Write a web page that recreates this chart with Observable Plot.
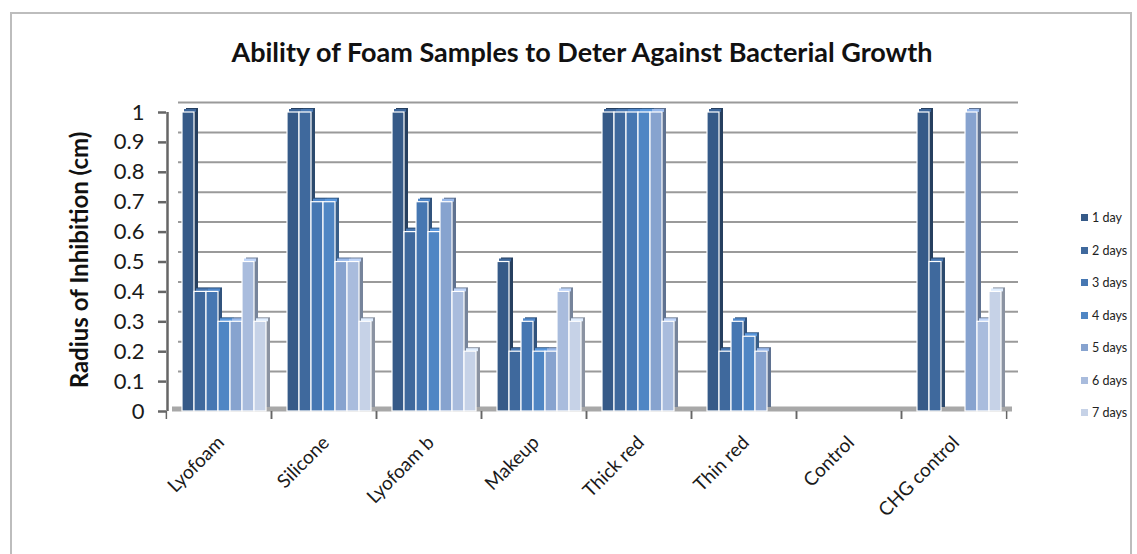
<!DOCTYPE html>
<html>
<head>
<meta charset="utf-8">
<script src="https://cdn.jsdelivr.net/npm/d3@7"></script>
<script src="https://cdn.jsdelivr.net/npm/@observablehq/plot@0.6"></script>
<style>
  body { margin: 0; background: #fff; font-family: Lato, "Open Sans", sans-serif; }
  #wrap { position: relative; width: 1137px; height: 554px; overflow: hidden; }
  #chart { position: absolute; left: 0; top: 0; }
  #border { position: absolute; left: 10px; top: 12px; width: 1118px; height: 600px; border: 2px solid #bdbdbd; pointer-events: none; }
  #title { position: absolute; left: 582px; top: 36px; transform: translateX(-50%); white-space: nowrap; font-weight: bold; font-size: 27px; line-height: 32px; color: #111; }
  #ylabel { position: absolute; left: 78px; top: 260px; transform: translate(-50%, -50%) rotate(-90deg); white-space: nowrap; font-weight: bold; font-size: 24px; color: #111; }
  #legend { position: absolute; left: 1081px; top: 203px; font-size: 12.5px; color: #222; }
  #legend .item { height: 32.5px; line-height: 30px; white-space: nowrap; }
  #legend .sw { display: inline-block; width: 7px; height: 7px; margin-right: 4px; vertical-align: 1px; }
</style>
</head>
<body>
<div id="wrap">
  <div id="chart"></div>
  <div id="border"></div>
  <div id="title"></div>
  <div id="ylabel"></div>
  <div id="legend"></div>
</div>
<script>
const titleText = "Ability of Foam Samples to Deter Against Bacterial Growth";
const yLabel = "Radius of Inhibition (cm)";
const categories = ["Lyofoam", "Silicone", "Lyofoam b", "Makeup", "Thick red", "Thin red", "Control", "CHG control"];
const days = ["1 day", "2 days", "3 days", "4 days", "5 days", "6 days", "7 days"];
const day1 = [1, 1, 1, 0.5, 1, 1, 0, 1];
const day2 = [0.4, 1, 0.6, 0.2, 1, 0.2, 0, 0.5];
const day3 = [0.4, 0.7, 0.7, 0.3, 1, 0.3, 0, null];
const day4 = [0.3, 0.7, 0.6, 0.2, 1, 0.25, 0, null];
const day5 = [0.3, 0.5, 0.7, 0.2, 1, 0.2, 0, 1];
const day6 = [0.5, 0.5, 0.4, 0.4, 0.3, 0, 0, 0.3];
const day7 = [0.3, 0.3, 0.2, 0.3, 0, 0, 0, 0.4];
const yTicks = [0, 0.1, 0.2, 0.3, 0.4, 0.5, 0.6, 0.7, 0.8, 0.9, 1];
const colors = ["#365a88", "#3f699d", "#4677b2", "#4f86c4", "#87a3cf", "#a9bcdd", "#c6d2e7"];

const seriesValues = [day1, day2, day3, day4, day5, day6, day7];
const data = categories.flatMap((c, ci) => days.map((d, di) => ({category: c, day: d, value: seriesValues[di][ci]})));
const present = data.filter(r => r.value != null);
const shadowColors = colors.map(c => d3.color(c).darker(1.0).formatHex());
const topColors = colors.map(c => d3.color(c).brighter(0.35).formatHex());
const firstCell = data.filter(r => r.category === categories[0] && r.day === days[0]);

const half = (1007 - 165) / categories.length / 2;
const axisColor = "#666666";

const chart = Plot.plot({
  width: 1137,
  height: 554,
  marginTop: 112,
  marginBottom: 143,
  marginLeft: 165,
  marginRight: 130,
  style: {background: "transparent", fontFamily: "Lato, 'Open Sans', sans-serif", color: "#1a1a1a"},
  fx: {domain: categories, padding: 0, label: null},
  x: {domain: days, paddingInner: 0, paddingOuter: 0.6, align: 0.75, axis: null},
  y: {domain: [0, 1], axis: null},
  color: {domain: days, range: colors},
  marks: [
    Plot.gridY(yTicks.slice(1), {stroke: "#9a9a9a", strokeOpacity: 1, strokeWidth: 2, dx: 12, dy: -10}),
    Plot.ruleY([0], {stroke: "#a8a8a8", strokeWidth: 5, dx: 6, dy: -2.5}),
    ...days.map((d, i) => Plot.barY(present.filter(r => r.day === d), {
      fx: "category", x: "day", y: "value", fill: shadowColors[i], dx: 4, dy: -4
    })),
    ...days.map((d, i) => Plot.tickY(present.filter(r => r.day === d && r.value > 0), {
      fx: "category", x: "day", y: "value", stroke: topColors[i], strokeWidth: 3, dx: 2, dy: -2, strokeLinecap: "butt"
    })),
    Plot.barY(present, {
      fx: "category", x: "day", y: "value", fill: "day", stroke: "white", strokeWidth: 1.2
    }),
    Plot.ruleX(firstCell, {fx: "category", x: "day", y1: 0, y2: 1, stroke: axisColor, strokeOpacity: 1, strokeWidth: 2.5, dx: -21}),
    Plot.axisY(yTicks, {anchor: "left", tickSize: 8, tickPadding: 14, fontSize: 22, label: null, tickFormat: d => String(d), stroke: axisColor, strokeOpacity: 1, strokeWidth: 2.5}),
    Plot.axisFx({anchor: "bottom", tickSize: 8, tickFormat: () => "", label: null, dx: -half, stroke: axisColor, strokeWidth: 1.5}),
    Plot.axisFx({anchor: "bottom", tickSize: 8, tickFormat: () => "", label: null, dx: half, stroke: axisColor, strokeWidth: 1.5}),
    Plot.axisFx({anchor: "bottom", tickSize: 0, tickRotate: -45, tickPadding: 28, fontSize: 19, label: null, dx: 2})
  ]
});
document.getElementById("chart").appendChild(chart);

document.getElementById("title").textContent = titleText;
document.getElementById("ylabel").textContent = yLabel;
const legend = document.getElementById("legend");
days.forEach((d, i) => {
  const item = document.createElement("div");
  item.className = "item";
  const sw = document.createElement("span");
  sw.className = "sw";
  sw.style.background = colors[i];
  item.appendChild(sw);
  item.appendChild(document.createTextNode(d));
  legend.appendChild(item);
});
</script>
</body>
</html>
